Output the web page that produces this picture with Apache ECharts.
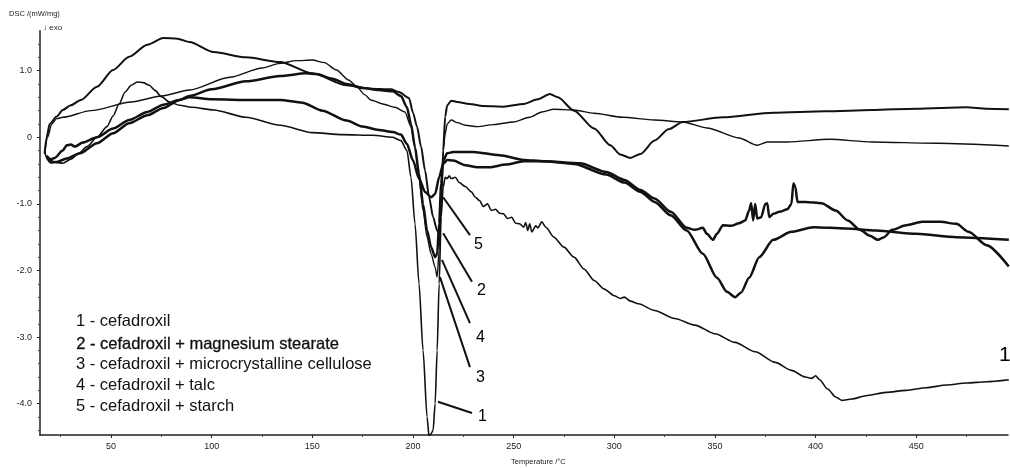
<!DOCTYPE html>
<html>
<head>
<meta charset="utf-8">
<script src="https://cdn.jsdelivr.net/npm/echarts@6/dist/echarts.min.js"></script>
<style>
html,body{margin:0;padding:0;background:#fff;}
#chart{width:1010px;height:468px;}
</style>
</head>
<body>
<div id="chart"></div>
<script>
// ---------- DATA ----------
const xTickLabels = [50, 100, 150, 200, 250, 300, 350, 400, 450];
const xMinorTicks = [25, 75, 125, 175, 225, 275, 325, 375, 425, 475];
const yTickLabels = [-4, -3, -2, -1, 0, 1];
const yMinorTicks = [-4.4, -4.2, -3.8, -3.6, -3.4, -3.2, -2.8, -2.6, -2.4, -2.2, -1.8, -1.6, -1.4, -1.2,
  -0.8, -0.6, -0.4, -0.2, 0.2, 0.4, 0.6, 0.8, 1.2, 1.4];

const seriesNames = ['1', '2', '3', '4', '5'];
const legendLabels = [
  '1 - cefadroxil',
  '2 - cefadroxil + magnesium stearate',
  '3 - cefadroxil + microcrystalline cellulose',
  '4 - cefadroxil + talc',
  '5 - cefadroxil + starch'
];

// 1 - cefadroxil
const curve1 = [[17,-0.22],[18,-0.3],[20,-0.35],[23,-0.38],[26,-0.39],[30,-0.33],[34,-0.24],[38,-0.14],[43,0.0],[48,0.16],[51,0.32],[54,0.5],[57,0.68],[60,0.78],[63,0.83],[66,0.82],[69,0.78],[72,0.7],[75,0.61],[79,0.53],[84,0.48],[90,0.45],[101,0.41],[117,0.3],[134,0.18],[150,0.07],[165,0.04],[180,0.03],[190,0.0],[194,-0.05],[197,-0.2],[199,-0.6],[201,-1.3],[203,-2.2],[205,-3.2],[207,-4.2],[208,-4.5],[209,-4.45],[210,-4.4],[211,-4.0],[212,-3.2],[213,-2.2],[214,-1.2],[215,-0.75],[216,-0.6],[217,-0.62],[218,-0.58],[219,-0.62],[221,-0.6],[223,-0.68],[226,-0.74],[229,-0.82],[231,-0.9],[233,-0.95],[235,-1.04],[237,-1.0],[239,-1.1],[241,-1.08],[243,-1.14],[245,-1.15],[247,-1.22],[249,-1.2],[251,-1.29],[253,-1.3],[255,-1.35],[256,-1.28],[257,-1.4],[258,-1.3],[259,-1.42],[261,-1.33],[262,-1.36],[264,-1.27],[266,-1.35],[270,-1.5],[275,-1.65],[280,-1.8],[285,-1.98],[290,-2.15],[295,-2.28],[300,-2.38],[303,-2.42],[305,-2.4],[308,-2.46],[312,-2.5],[320,-2.6],[330,-2.72],[340,-2.82],[350,-2.95],[360,-3.08],[370,-3.22],[380,-3.38],[388,-3.5],[395,-3.6],[398,-3.62],[400,-3.58],[402,-3.64],[406,-3.78],[410,-3.9],[413,-3.95],[418,-3.93],[425,-3.88],[435,-3.83],[445,-3.8],[455,-3.76],[465,-3.72],[475,-3.69],[485,-3.67],[496,-3.64]];

// 2 - cefadroxil + magnesium stearate
const curve2 = [[17,-0.24],[18,0.0],[19.5,0.2],[23,0.31],[26,0.41],[30,0.48],[35,0.56],[43,0.76],[51,1.01],[59,1.21],[68,1.39],[76,1.49],[83,1.48],[89,1.43],[101,1.28],[117,1.2],[134,1.13],[150,0.96],[167,0.78],[179,0.73],[189,0.72],[193,0.68],[198,0.59],[200,0.37],[202,0.16],[204,-0.14],[206,-0.5],[208,-0.9],[210,-1.2],[212,-1.4],[213,-1.45],[214,-1.0],[215,-0.2],[216,0.31],[217,0.48],[219,0.55],[222,0.53],[228,0.5],[235,0.47],[245,0.46],[255,0.5],[262,0.57],[268,0.65],[272,0.6],[280,0.4],[290,0.13],[298,-0.12],[303,-0.26],[308,-0.31],[313,-0.25],[320,-0.05],[327,0.12],[334,0.23],[354,0.3],[379,0.37],[405,0.39],[428,0.41],[450,0.43],[475,0.45],[485,0.43],[496,0.42]];

// 3 - cefadroxil + microcrystalline cellulose
const curve3 = [[17,-0.25],[18.5,0.0],[20.5,0.2],[23,0.28],[26,0.3],[40,0.4],[60,0.53],[75,0.62],[89,0.71],[109,0.9],[125,1.04],[134,1.11],[142,1.15],[150,1.16],[156,1.12],[162,1.01],[168,0.86],[172,0.76],[176,0.64],[179,0.56],[185,0.5],[191,0.45],[196,0.38],[199,0.16],[201,-0.14],[203,-0.6],[205,-1.1],[207,-1.5],[209,-1.75],[211,-1.95],[212,-2.1],[213,-1.7],[214,-0.9],[215,-0.2],[216,0.05],[217,0.2],[219,0.26],[222,0.22],[226,0.18],[232,0.16],[240,0.19],[250,0.23],[258,0.3],[264,0.38],[270,0.42],[280,0.41],[290,0.36],[304,0.3],[320,0.26],[334,0.23],[346,0.14],[362,-0.01],[371,-0.12],[376,-0.07],[386,-0.07],[407,-0.03],[428,-0.07],[461,-0.09],[496,-0.13]];

// 4 - cefadroxil + talc
const curve4 = [[18,-0.3],[20,-0.38],[23,-0.37],[28,-0.32],[34.6,-0.24],[43,-0.09],[51,0.06],[59,0.21],[68,0.33],[76,0.44],[84,0.56],[89,0.62],[100,0.72],[117,0.84],[134,0.92],[147,0.96],[152,0.95],[160,0.88],[167,0.8],[175,0.74],[183,0.71],[190,0.69],[194,0.62],[197,0.45],[199,0.2],[201,-0.15],[203,-0.55],[205,-1.0],[207,-1.4],[209,-1.65],[211,-1.8],[212,-1.75],[213,-1.3],[214,-0.7],[215,-0.35],[217,-0.24],[220,-0.22],[230,-0.22],[243,-0.27],[255,-0.34],[265,-0.36],[283,-0.39],[296,-0.52],[305,-0.64],[313,-0.79],[320,-0.92],[328,-1.12],[336,-1.36],[340,-1.39],[344,-1.36],[346,-1.45],[349,-1.54],[351,-1.45],[354,-1.32],[358,-1.33],[362,-1.29],[365,-1.25],[367,-1.1],[368,-0.99],[369,-1.25],[370,-1.0],[371,-1.22],[373,-1.2],[375,-1.0],[376,-0.99],[377,-1.2],[379,-1.15],[382,-1.12],[386,-1.08],[388,-1.0],[389,-0.69],[390,-0.75],[391,-0.97],[395,-0.97],[403,-0.99],[410,-1.1],[416,-1.25],[422,-1.39],[427,-1.48],[431,-1.54],[434,-1.5],[438,-1.39],[445,-1.32],[453,-1.27],[462,-1.27],[470,-1.3],[476,-1.42],[485,-1.62],[496,-1.94]];

// 5 - cefadroxil + starch
const curve5 = [[18,-0.28],[20,-0.33],[22,-0.31],[26,-0.2],[28,-0.12],[30,-0.11],[32,-0.14],[36,-0.08],[43,0.0],[51,0.13],[59,0.26],[68,0.38],[76,0.49],[84,0.56],[89,0.6],[100,0.57],[120,0.56],[134,0.56],[145,0.52],[155,0.4],[167,0.25],[175,0.16],[183,0.11],[190,0.08],[194,0.04],[197,-0.1],[200,-0.35],[203,-0.62],[206,-0.82],[209,-0.9],[211,-0.85],[213,-0.6],[215,-0.4],[217,-0.34],[220,-0.35],[226,-0.42],[232,-0.45],[238,-0.45],[246,-0.41],[255,-0.36],[265,-0.36],[280,-0.4],[296,-0.56],[305,-0.68],[313,-0.82],[320,-0.97],[328,-1.17],[336,-1.4],[344,-1.75],[351,-2.11],[356,-2.32],[360,-2.4],[363,-2.33],[367,-2.11],[372,-1.8],[379,-1.54],[388,-1.42],[399,-1.35],[415,-1.37],[430,-1.4],[450,-1.45],[470,-1.5],[496,-1.54]];

// curve-number annotations: leader line start, leader line end, label position (data units)
const leaderLines = [
  [[212.4,-3.97],[229.3,-4.14]],
  [[215,-1.44],[229.3,-2.17]],
  [[213.4,-2.1],[228.3,-3.45]],
  [[214.4,-1.84],[228.3,-2.79]],
  [[215,-0.9],[228.3,-1.47]]
];
const curveLabelPos = [[234.5,-4.2],[234,-2.3],[233.5,-3.61],[233.5,-3.01],[232.5,-1.61]];
const endLabel = {name: '1', pos: [494, -3.27]};

// ---------- CHART ----------
const X_MIN = 14.7, X_MAX = 495.6, Y_MIN = -4.47, Y_MAX = 1.6;
const chart = echarts.init(document.getElementById('chart'), null, {renderer: 'canvas'});
const curves = [curve1, curve2, curve3, curve4, curve5];
const widths = [1.6, 2.0, 1.4, 2.5, 2.5];

const series = curves.map((d, i) => ({
  name: seriesNames[i], type: 'line', data: d, showSymbol: false, symbol: 'none',
  smooth: 0.25, smoothMonotone: 'x',
  lineStyle: {color: '#111', width: widths[i]}, z: 3
}));
leaderLines.forEach((seg) => series.push({
  type: 'line', data: seg, showSymbol: false, symbol: 'none',
  lineStyle: {color: '#111', width: 2}, z: 4, silent: true
}));
const numLabel = (size) => ({
  show: true, position: 'inside', formatter: '{b}', color: '#000', opacity: 1,
  textBorderWidth: 0, textBorderColor: 'transparent',
  fontFamily: 'Liberation Sans, Arial, sans-serif', fontSize: size
});
series.push({
  type: 'scatter', symbolSize: 0, z: 5, silent: true,
  itemStyle: {color: 'transparent', opacity: 1},
  data: curveLabelPos.map((p, i) => ({value: p, name: seriesNames[i]})),
  label: numLabel(16)
});
series.push({
  type: 'scatter', symbolSize: 0, z: 5, silent: true,
  itemStyle: {color: 'transparent', opacity: 1},
  data: [{value: endLabel.pos, name: endLabel.name}],
  label: numLabel(21)
});

const tickFont = {fontFamily: 'Liberation Sans, Arial, sans-serif', fontSize: 9, color: '#222'};

const option = {
  animation: false,
  backgroundColor: '#fff',
  grid: {left: 40, right: 2, top: 30.7, bottom: 33, containLabel: false},
  xAxis: [
    {type: 'value', min: X_MIN, max: X_MAX, gridIndex: 0, position: 'bottom',
      axisLine: {show: true, onZero: false, lineStyle: {color: '#222', width: 1.5}},
      axisTick: {show: true, customValues: xTickLabels, length: 3, lineStyle: {color: '#222'}},
      axisLabel: {show: true, customValues: xTickLabels, margin: 7, ...tickFont},
      splitLine: {show: false}},
    {type: 'value', min: X_MIN, max: X_MAX, gridIndex: 0, position: 'bottom',
      axisLine: {show: false, onZero: false},
      axisTick: {show: true, customValues: xMinorTicks, length: 2, lineStyle: {color: '#444'}},
      axisLabel: {show: false}, splitLine: {show: false}}
  ],
  yAxis: [
    {type: 'value', min: Y_MIN, max: Y_MAX, gridIndex: 0, position: 'left',
      axisLine: {show: true, onZero: false, lineStyle: {color: '#222', width: 1.5}},
      axisTick: {show: true, customValues: yTickLabels, length: 3, lineStyle: {color: '#222'}},
      axisLabel: {show: true, customValues: yTickLabels, margin: 8, ...tickFont,
        formatter: v => (v === 0 ? '0' : v.toFixed(1))},
      splitLine: {show: false}},
    {type: 'value', min: Y_MIN, max: Y_MAX, gridIndex: 0, position: 'left',
      axisLine: {show: false, onZero: false},
      axisTick: {show: true, customValues: yMinorTicks, length: 2, lineStyle: {color: '#444'}},
      axisLabel: {show: false}, splitLine: {show: false}}
  ],
  graphic: [
    {type: 'text', left: 9, top: 10, style: {text: 'DSC /(mW/mg)', font: '7.5px "Liberation Sans", Arial, sans-serif', fill: '#222'}},
    {type: 'text', left: 43, top: 24, style: {text: '\u2193 exo', font: '8px "Liberation Sans", Arial, sans-serif', fill: '#222'}},
    {type: 'text', left: 511, top: 458, style: {text: 'Temperature /\u00B0C', font: '7.5px "Liberation Sans", Arial, sans-serif', fill: '#222'}}
  ].concat(legendLabels.map((t, i) => ({
    type: 'text', left: 76, top: [313, 335.5, 355.5, 376.5, 398][i],
    style: {text: t, font: '16.5px "Liberation Sans", Arial, sans-serif', fill: '#111',
      stroke: i === 1 ? '#111' : null, lineWidth: i === 1 ? 0.3 : 0}
  }))),
  series: series
};
chart.setOption(option);
</script>
</body>
</html>
